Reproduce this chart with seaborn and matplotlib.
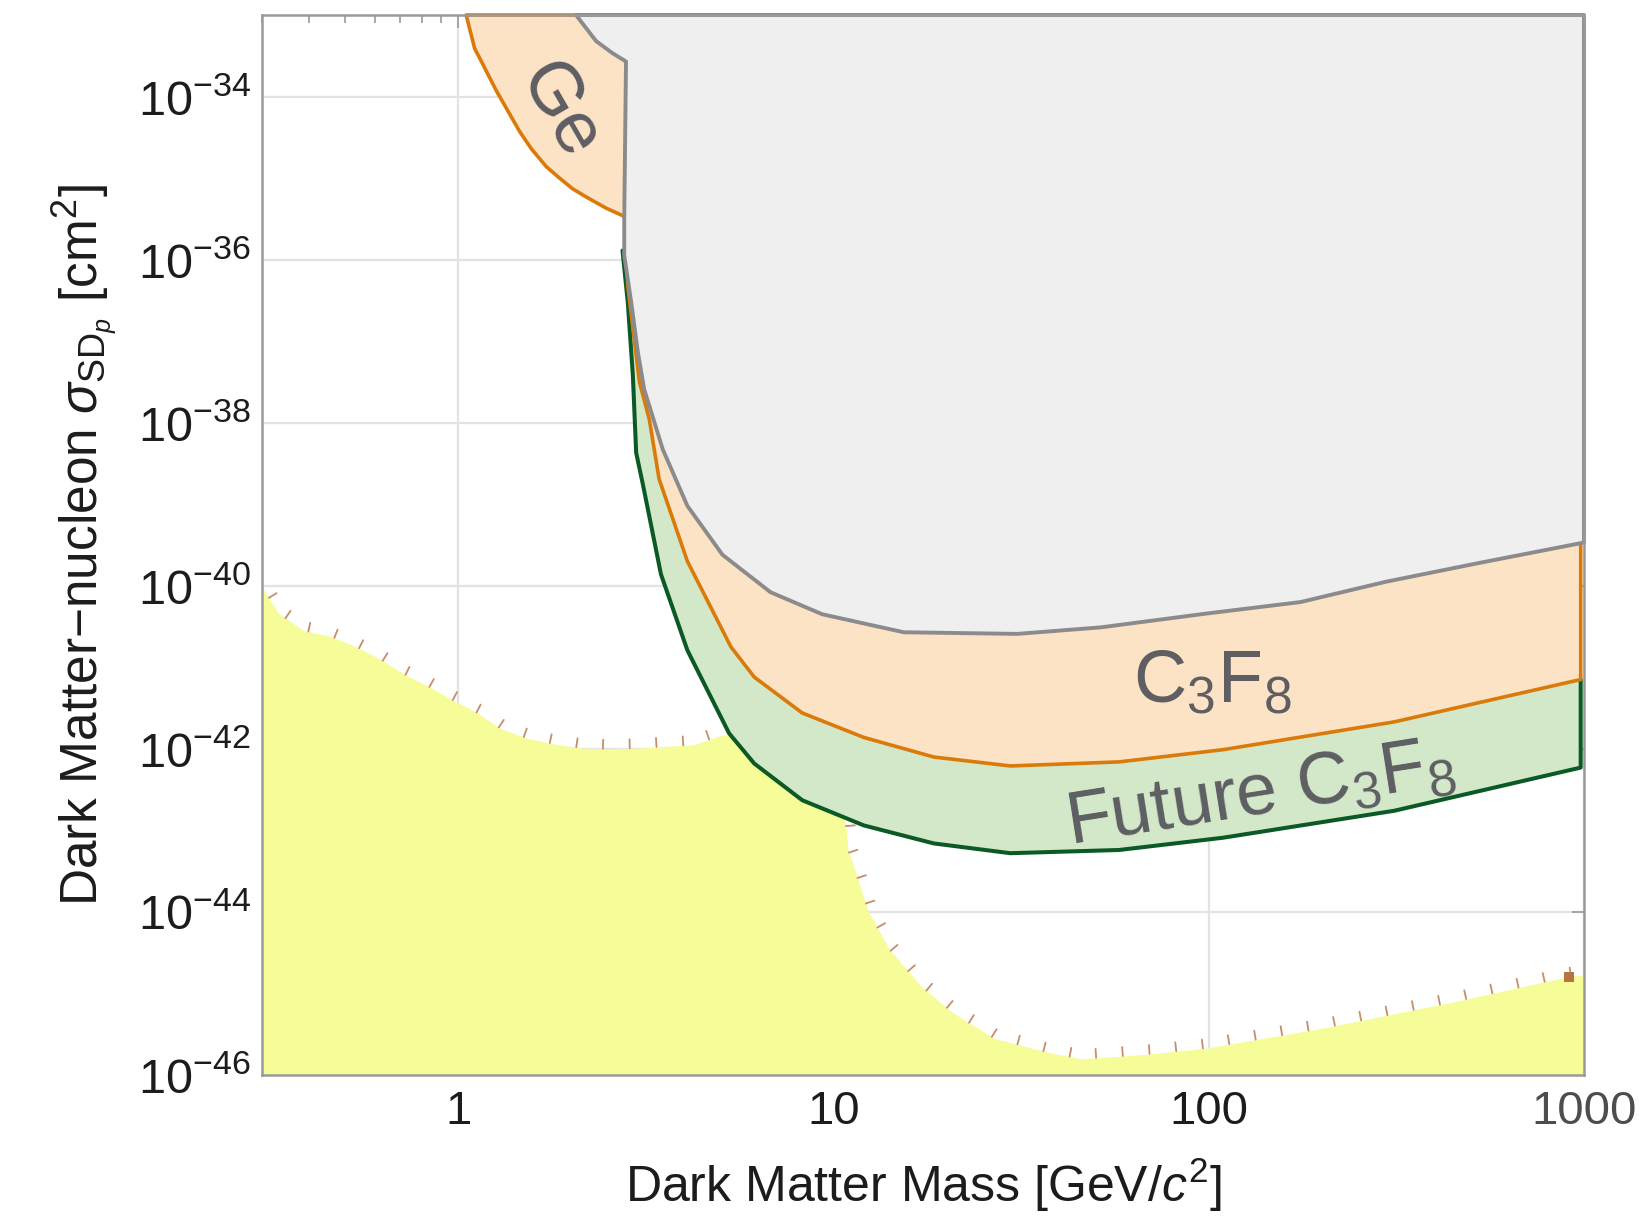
import numpy as np
import pandas as pd
import matplotlib
matplotlib.use("Agg")
import matplotlib.pyplot as plt
import seaborn as sns
from matplotlib import patheffects as pe
from matplotlib.ticker import FixedLocator, LogLocator, NullLocator, FuncFormatter, NullFormatter

# ---------------- data ----------------
# Existing limit region (yellow), bounded from below by the axis floor
yellow_mass = [0.30, 0.332, 0.387, 0.456, 0.531, 0.619, 0.721, 0.83, 0.966, 1.125,
               1.295, 1.526, 1.797, 2.14, 2.52, 2.97, 3.55, 4.23, 4.98, 6.34,
               8.09, 9.73, 10.78, 10.92, 11.65, 12.4, 14.1, 17.1, 20.7, 26.8,
               37.0, 45.5, 54.3, 70.2, 98.8, 204, 432, 892, 1000]
yellow_sigma = [9.77e-41, 4.57e-41, 2.82e-41, 2.40e-41, 1.82e-41, 1.26e-41, 8.13e-42, 5.89e-42, 3.98e-42, 2.75e-42,
                1.78e-42, 1.35e-42, 1.15e-42, 1.02e-42, 1.00e-42, 1.02e-42, 1.07e-42, 1.12e-42, 1.45e-42, 1.58e-42,
                1.12e-42, 3.98e-43, 1.20e-43, 5.89e-44, 2.40e-44, 1.0e-44, 3.47e-45, 1.23e-45, 5.89e-46, 2.82e-46,
                1.91e-46, 1.58e-46, 1.66e-46, 1.82e-46, 2.14e-46, 3.80e-46, 7.59e-46, 1.58e-45, 1.70e-45]
dot_mass = [914]
dot_sigma = [1.58e-45]

# Future C3F8 sensitivity (green)
future_mass = [2.74, 2.83, 2.92, 2.98, 3.10, 3.47, 4.08, 5.27, 6.15, 8.26,
               12.05, 18.5, 29.6, 57.7, 109.2, 312, 980]
future_sigma = [1.29e-36, 3.02e-37, 3.80e-38, 4.27e-39, 1.82e-39, 1.38e-40, 1.62e-41, 1.55e-42, 6.61e-43, 2.34e-43,
                1.15e-43, 6.92e-44, 5.25e-44, 5.75e-44, 8.13e-44, 1.74e-43, 5.89e-43]

# C3F8 limit (orange)
c3f8_mass = [2.78, 2.83, 3.04, 3.23, 3.43, 4.08, 5.33, 6.15, 8.26, 12.05,
             18.5, 29.6, 57.7, 109.2, 312, 980]
c3f8_sigma = [3.0e-36, 4.79e-37, 3.16e-38, 1.10e-38, 2.04e-39, 2.0e-40, 1.78e-41, 7.59e-42, 2.75e-42, 1.38e-42,
              7.94e-43, 6.17e-43, 6.92e-43, 9.77e-43, 2.14e-42, 7.08e-42]
c3f8_right_top = 1.78e-37

# Ge limit (orange, upper left)
ge_mass = [1.05, 1.106, 1.153, 1.264, 1.458, 1.566, 1.717, 1.862, 2.016, 2.19, 2.48, 2.74]
ge_sigma = [1.0e-33, 3.89e-34, 2.69e-34, 1.175e-34, 3.72e-35, 2.29e-35, 1.38e-35, 1.0e-35, 7.41e-36,
            5.89e-36, 4.27e-36, 3.47e-36]
ge_top_reach = 8.1

# Existing exclusion (grey)
gray_mass = [2.06, 2.33, 2.58, 2.80, 2.77, 2.77, 2.89, 3.01, 3.13, 3.51, 4.08, 5.06, 6.8, 9.34,
             15.4, 30.9, 51.6, 98.8, 175.6, 296.5, 527, 1000, 1000]
gray_sigma = [1e-33, 4.79e-34, 3.39e-34, 2.69e-34, 3.47e-36, 1.12e-36, 3.02e-37, 7.41e-38, 2.57e-38,
              4.68e-39, 9.55e-40, 2.40e-40, 8.32e-41, 4.47e-41, 2.69e-41, 2.57e-41, 3.09e-41, 4.57e-41,
              6.31e-41, 1.12e-40, 1.91e-40, 3.39e-40, 1e-33]

x_ticks = [1, 10, 100, 1000]
x_tick_labels = ["1", "10", "100", "1000"]
y_ticks = [1e-46, 1e-44, 1e-42, 1e-40, 1e-38, 1e-36, 1e-34]

labels = {"ge": "Ge", "c3f8": "C$_3$F$_8$", "future": "Future C$_3$F$_8$"}
label_pos = {"ge": (1.86, 6.8e-35, -60), "c3f8": (102, 6.6e-42, 0), "future": (137, 2.75e-43, 9)}

# ---------------- style ----------------
sns.set_theme(style="white")
plt.rcParams['font.family'] = ['Liberation Sans', 'DejaVu Sans']
plt.rcParams['mathtext.fontset'] = 'custom'
plt.rcParams['mathtext.rm'] = 'Liberation Sans'
plt.rcParams['mathtext.it'] = 'Liberation Sans:italic'
plt.rcParams['mathtext.bf'] = 'Liberation Sans:bold'
plt.rcParams['mathtext.sf'] = 'Liberation Sans'

YELLOW = '#f6fc98'
GREEN_FILL = '#d3e8c8'
GREEN_LINE = '#0b5a26'
ORANGE_FILL = '#fde3c5'
ORANGE_LINE = '#d97a0b'
GRAY_FILL = '#efefef'
GRAY_LINE = '#8b8b8b'
TEXT_GRAY = '#5e5e63'

fig = plt.figure(figsize=(16.43, 12.17), dpi=100)
ax = fig.add_axes([262 / 1643, 1 - 1075 / 1217, (1584 - 262) / 1643, (1075 - 15) / 1217])
ax.set_xscale('log')
ax.set_yscale('log')
ax.set_xlim(0.3, 1000)
ax.set_ylim(1e-46, 1e-33)
ylo, yhi = ax.get_ylim()

ax.set_facecolor('white')
ax.set_axisbelow(True)
ax.grid(True, which='major', color='#e3e3e3', lw=1.6)

# yellow region
ax.fill_between(yellow_mass, ylo, yellow_sigma, color=YELLOW, lw=0, zorder=1)
sns.lineplot(x=yellow_mass, y=yellow_sigma, ax=ax, color='#c48e6a', lw=1.3, sort=False, estimator=None,
             path_effects=[pe.TickedStroke(spacing=19, angle=90, length=0.34)], zorder=1.5)
sns.scatterplot(x=dot_mass, y=dot_sigma, ax=ax, marker='s', s=45, color='#b8743a', linewidth=0, zorder=1.6)

# future C3F8 (green)
ax.fill_between(future_mass, future_sigma, yhi, color=GREEN_FILL, lw=0, zorder=2)
sns.lineplot(x=future_mass + [future_mass[-1]], y=future_sigma + [c3f8_sigma[-1]], ax=ax,
             color=GREEN_LINE, lw=2.9, sort=False, estimator=None, zorder=2.5)

# C3F8 (orange)
ax.fill_between(c3f8_mass, c3f8_sigma, yhi, color=ORANGE_FILL, lw=0, zorder=3)
sns.lineplot(x=c3f8_mass + [c3f8_mass[-1]], y=c3f8_sigma + [c3f8_right_top], ax=ax,
             color=ORANGE_LINE, lw=2.6, sort=False, estimator=None, zorder=3.5)

# Ge (orange, closed along the grey boundary)
ge_poly_x = ge_mass + gray_mass[4::-1]
ge_poly_y = ge_sigma + gray_sigma[4::-1]
ax.fill(ge_poly_x, ge_poly_y, color=ORANGE_FILL, lw=0, zorder=3)
sns.lineplot(x=[ge_top_reach] + ge_mass, y=[ge_sigma[0]] + ge_sigma, ax=ax, color=ORANGE_LINE, lw=2.6,
             sort=False, estimator=None, zorder=3.6, clip_on=False)

# grey existing exclusion
ax.fill(gray_mass, gray_sigma, color=GRAY_FILL, lw=0, zorder=4)
sns.lineplot(x=gray_mass + [gray_mass[0]], y=gray_sigma + [gray_sigma[0]], ax=ax, color=GRAY_LINE,
             lw=2.8, sort=False, estimator=None, zorder=4.5, clip_on=False)

# region labels
for key in ["ge", "c3f8", "future"]:
    xm, ys, rot = label_pos[key]
    ax.text(xm, ys, labels[key], fontsize=53, color=TEXT_GRAY, rotation=rot,
            ha='center', va='center', rotation_mode='anchor', zorder=6)

# axes / ticks
ax.xaxis.set_major_locator(FixedLocator(x_ticks))
ax.xaxis.set_minor_locator(LogLocator(base=10, subs=np.arange(2, 10)))
ax.xaxis.set_minor_formatter(NullFormatter())
ax.set_xticks(x_ticks)
ax.set_xticklabels(x_tick_labels)
ax.yaxis.set_major_locator(FixedLocator(y_ticks))
ax.yaxis.set_minor_locator(NullLocator())
ax.yaxis.set_major_formatter(FuncFormatter(lambda v, p: r"$10^{%d}$" % int(round(np.log10(v)))))

ax.tick_params(which='both', direction='in', top=True, right=True, color='#9a9a9a', width=1.2)
ax.tick_params(which='major', length=9)
ax.tick_params(which='minor', length=6)
ax.tick_params(axis='x', which='major', labelsize=34, pad=11, labelcolor='#1c1c1c')
ax.tick_params(axis='y', which='major', labelsize=35, pad=8, labelcolor='#1c1c1c')
ax.xaxis.get_ticklabels()[-1].set_color('#4d4d4d')

for s in ax.spines.values():
    s.set_visible(True)
    s.set_color('#9a9a9a')
    s.set_linewidth(1.8)
    s.set_zorder(10)

ax.set_xlabel("Dark Matter Mass [GeV/$c^2$]", fontsize=36, color='#1c1c1c')
ax.set_ylabel("Dark Matter\u2212nucleon $\\sigma_{\\mathrm{SD}_p}$ [cm$^2$]", fontsize=37, color='#1c1c1c')
ax.xaxis.set_label_coords(0.5, -0.076)
ax.yaxis.set_label_coords(-0.108, 0.5)

fig.savefig("out.png", dpi=100, facecolor='white')
